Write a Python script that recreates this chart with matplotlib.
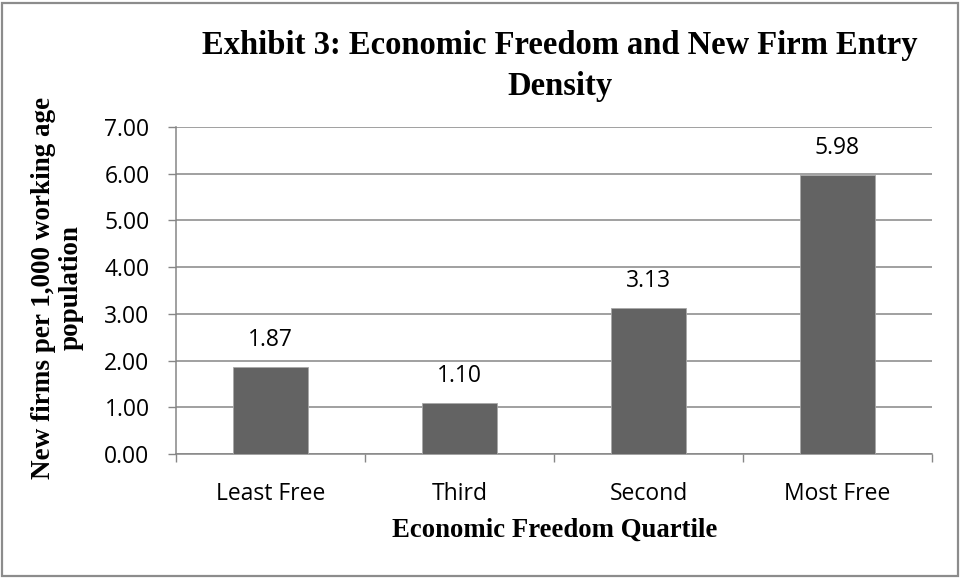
import matplotlib
matplotlib.use("Agg")
import matplotlib.pyplot as plt
from matplotlib.patches import Rectangle

# Data
quartiles = ["Least Free", "Third", "Second", "Most Free"]
entry_density = [1.87, 1.10, 3.13, 5.98]
y_ticks = [0, 1, 2, 3, 4, 5, 6, 7]

title_text = "Exhibit 3: Economic Freedom and New Firm Entry\nDensity"
x_label = "Economic Freedom Quartile"
y_label = "New firms per 1,000 working age\npopulation"

SERIF = "Liberation Serif"
SANS = "Open Sans"
GRID = "#868686"
BAR = "#636363"

W, H = 961, 578
fig = plt.figure(figsize=(W / 100, H / 100), dpi=100)
fig.patch.set_facecolor("white")

left, right, top, bottom = 176, 932, 127, 454
ax = fig.add_axes([left / W, 1 - bottom / H, (right - left) / W, (bottom - top) / H])

x = list(range(len(quartiles)))
bars = ax.bar(x, entry_density, width=0.4, color=BAR, edgecolor="#a8a8a8",
              linewidth=0.6, zorder=3)

for xi, v in zip(x, entry_density):
    ax.annotate(f"{v:.2f}", xy=(xi, v), xytext=(0, 19.0), textcoords="offset points",
                ha="center", va="center", fontsize=16.5, family=SANS, color="black")

ax.set_xlim(-0.5, len(quartiles) - 0.5)
ax.set_ylim(0, 7)
ax.set_yticks(y_ticks)
ax.set_yticklabels([f"{t:.2f}" for t in y_ticks], family=SANS, fontsize=16.5)
ax.set_xticks(x)
ax.set_xticklabels(quartiles, family=SANS, fontsize=16.5)
ax.tick_params(axis="x", length=0, pad=20)
ax.tick_params(axis="y", length=6, width=1.0, color=GRID, pad=13)

# category boundary ticks on the x axis
ax.set_xticks([i - 0.5 for i in range(len(quartiles) + 1)], minor=True)
ax.tick_params(axis="x", which="minor", length=5.5, width=1.0, color=GRID)

ax.grid(axis="y", color=GRID, linewidth=1.1, zorder=0)
ax.set_axisbelow(True)
for side in ("top", "right"):
    ax.spines[side].set_visible(False)
for side in ("left", "bottom"):
    ax.spines[side].set_color(GRID)
    ax.spines[side].set_linewidth(1.1)

fig.text(560 / W, 1 - 66 / H, title_text, ha="center", va="center",
         family=SERIF, fontweight="bold", fontsize=23.5, linespacing=1.38,
         multialignment="center")
fig.text(555 / W, 1 - 530 / H, x_label, ha="center", va="center",
         family=SERIF, fontweight="bold", fontsize=19.3)
fig.text(57 / W, 1 - 288 / H, y_label, ha="center", va="center", rotation=90,
         family=SERIF, fontweight="bold", fontsize=19.5, linespacing=1.15,
         multialignment="center")

# outer chart border
fig.add_artist(Rectangle((2 / W, 2 / H), (W - 5) / W, (H - 5) / H,
                         transform=fig.transFigure, fill=False,
                         edgecolor="#8c8c8c", linewidth=1.6))

fig.savefig("out.png", dpi=100)
